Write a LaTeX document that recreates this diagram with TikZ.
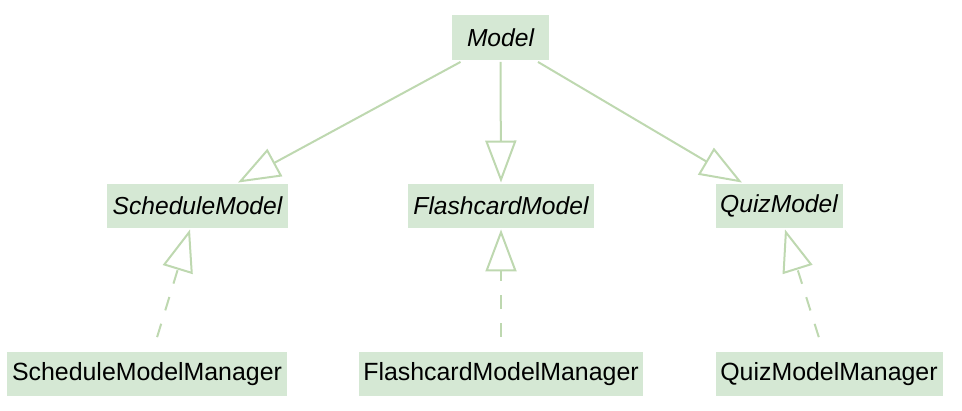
\documentclass[tikz,border=0pt]{standalone}
\usepackage{fontspec}
\setmainfont{Liberation Sans}
\usetikzlibrary{arrows.meta}
\definecolor{boxfill}{HTML}{D5E8D4}
\definecolor{edgecol}{RGB}{190,216,176}
\begin{document}
\begin{tikzpicture}[x=1pt,y=-1pt,
  cls/.style={fill=boxfill, draw=none, inner sep=0pt, minimum height=44.5pt,
    font=\fontsize{24.9}{29}\selectfont, text=black},
  iface/.style={cls, font=\fontsize{24.6}{29}\itshape\selectfont},
  gen/.style={draw=edgecol, line width=2pt, -{Triangle[open,length=42pt,width=31pt]}},
  real/.style={gen, dash pattern=on 14pt off 14pt, dash phase=14pt}]
\useasboundingbox (0,0) rectangle (962,410);
\node[iface, minimum width=97pt] (model) at (500.5,37.5) {Model};
\node[iface, minimum width=181pt] (sched) at (197.5,206) {ScheduleModel};
\node[iface, minimum width=186pt] (flash) at (501,206) {FlashcardModel};
\node[iface, minimum width=127pt] (quiz) at (779,206) {QuizModel};
\node[cls, minimum width=280pt] (smm) at (147,374) {ScheduleModelManager};
\node[cls, minimum width=284pt] (fmm) at (501,374) {FlashcardModelManager};
\node[cls, minimum width=227pt] (qmm) at (829,374) {QuizModelManager};
\draw[gen] ([xshift=-40pt,yshift=-2pt]model.south) -- ([xshift=40.5pt,yshift=1pt]sched.north);
\draw[gen] ([xshift=0pt,yshift=-2pt]model.south) -- ([yshift=1pt]flash.north);
\draw[gen] ([xshift=37.5pt,yshift=-2pt]model.south) -- ([xshift=-37pt,yshift=1pt]quiz.north);
\draw[real] ([xshift=6pt,yshift=1pt]smm.north) -- ([xshift=-7.5pt,yshift=-1pt]sched.south);
\draw[real] ([yshift=1pt]fmm.north) -- ([yshift=-1pt]flash.south);
\draw[real] ([xshift=-6pt,yshift=1pt]qmm.north) -- ([xshift=6pt,yshift=-1pt]quiz.south);
\end{tikzpicture}
\end{document}
